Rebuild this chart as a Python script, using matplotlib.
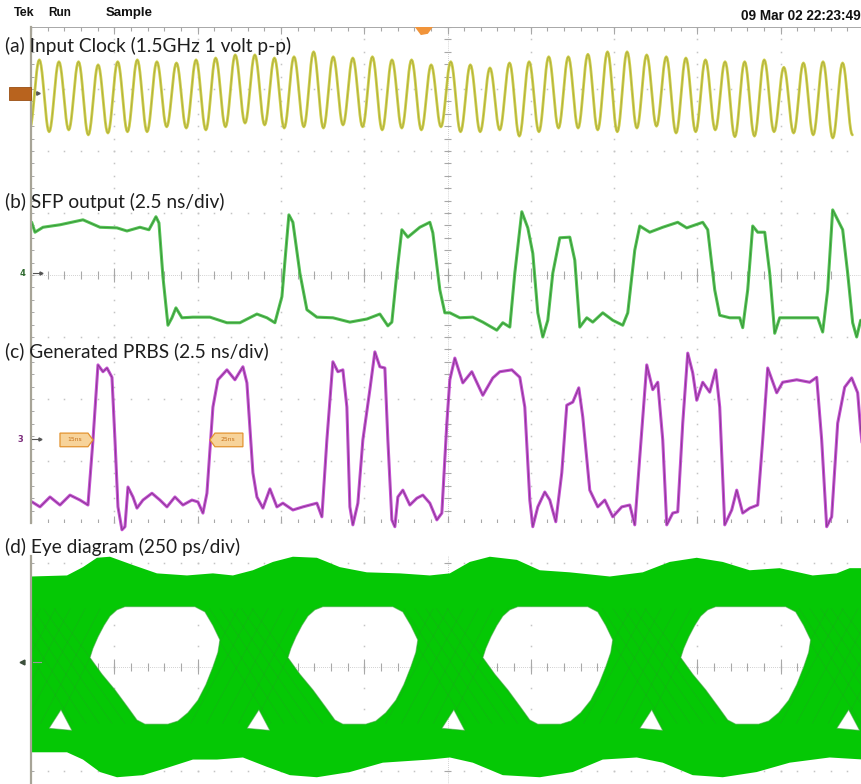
import numpy as np
import matplotlib
matplotlib.use("Agg")
import matplotlib.pyplot as plt
from matplotlib.path import Path
from matplotlib.patches import PathPatch, Polygon, Rectangle

# ---------------- Channel 1: input clock (levels in divisions) ----------------
clock_first_crest_ns = 0.25
clock_period_ns = 0.588
clock_lead_level = 2.35
clock_peaks = [3.47, 3.44, 3.44, 3.39, 3.44, 3.47, 3.44, 3.42, 3.47, 3.50,
               3.55, 3.55, 3.50, 3.52, 3.60, 3.52, 3.50, 3.52, 3.47, 3.47,
               3.39, 3.44, 3.39, 3.34, 3.42, 3.44, 3.52, 3.52, 3.56, 3.60,
               3.60, 3.55, 3.52, 3.50, 3.47, 3.44, 3.44, 3.47, 3.35, 3.42,
               3.44, 3.42]
clock_troughs = [2.31, 2.34, 2.26, 2.29, 2.31, 2.31, 2.39, 2.37, 2.34, 2.39,
                 2.45, 2.42, 2.37, 2.39, 2.37, 2.42, 2.39, 2.34, 2.37, 2.34,
                 2.39, 2.31, 2.31, 2.34, 2.24, 2.31, 2.37, 2.37, 2.34, 2.31,
                 2.37, 2.40, 2.29, 2.31, 2.34, 2.23, 2.24, 2.31, 2.29, 2.26,
                 2.21, 2.26]

# ---------------- Channel 4: SFP output ----------------
sfp_t = [0.02, 0.12, 0.36, 0.87, 1.56, 2.07, 2.58, 2.88, 3.27, 3.54,
         3.75, 3.84, 3.96, 4.11, 4.23, 4.35, 4.53, 4.86, 5.37, 5.88,
         6.27, 6.78, 7.08, 7.32, 7.53, 7.74, 7.86, 8.07, 8.28, 8.58,
         9.06, 9.57, 10.08, 10.47, 10.71, 10.83, 10.98, 11.13, 11.31, 11.67,
         11.97, 12.06, 12.27, 12.42, 12.57, 12.87, 13.26, 13.56, 13.98, 14.16,
         14.37, 14.52, 14.73, 14.91, 15.06, 15.21, 15.36, 15.51, 15.66, 15.87,
         16.17, 16.32, 16.47, 16.68, 16.86, 17.16, 17.46, 17.76, 17.91, 18.12,
         18.27, 18.57, 18.96, 19.41, 19.68, 20.16, 20.31, 20.52, 20.67, 20.97,
         21.27, 21.36, 21.51, 21.66, 21.81, 22.02, 22.17, 22.32, 22.47, 22.77,
         23.16, 23.61, 23.76, 23.91, 24.06, 24.36, 24.51, 24.66, 24.78, 24.90]
sfp_v = [0.85, 0.69, 0.77, 0.81, 0.89, 0.77, 0.76, 0.71, 0.77, 0.73,
         0.94, 0.84, -0.03, -0.81, -0.69, -0.53, -0.69, -0.68, -0.68, -0.77,
         -0.77, -0.63, -0.69, -0.77, -0.35, 0.97, 0.85, 0.03, -0.56, -0.68,
         -0.69, -0.76, -0.71, -0.63, -0.82, -0.76, 0.03, 0.73, 0.61, 0.77,
         0.85, 0.68, -0.24, -0.61, -0.61, -0.69, -0.68, -0.76, -0.89, -0.77,
         -0.84, 0.03, 1.02, 0.76, 0.35, -0.61, -1.00, -0.73, 0.03, 0.60,
         0.61, 0.24, -0.84, -0.69, -0.76, -0.61, -0.73, -0.81, -0.61, 0.40,
         0.79, 0.69, 0.77, 0.85, 0.76, 0.85, 0.73, -0.24, -0.65, -0.69,
         -0.69, -0.85, -0.24, 0.79, 0.69, 0.69, 0.03, -0.94, -0.69, -0.69,
         -0.69, -0.69, -0.92, -0.24, 1.05, 0.73, 0.03, -0.77, -1.00, -0.73]

# ---------------- Channel 3: generated PRBS ----------------
prbs_t = [0.03, 0.27, 0.57, 0.87, 1.17, 1.47, 1.71, 1.86, 2.01, 2.16,
          2.28, 2.43, 2.52, 2.61, 2.73, 2.82, 2.91, 3.06, 3.18, 3.36,
          3.63, 3.87, 4.08, 4.32, 4.56, 4.83, 5.01, 5.16, 5.28, 5.46,
          5.61, 5.88, 6.12, 6.36, 6.48, 6.66, 6.78, 6.96, 7.17, 7.38,
          7.56, 7.86, 8.16, 8.37, 8.58, 8.73, 8.88, 9.06, 9.21, 9.36,
          9.48, 9.57, 9.66, 9.81, 9.96, 10.17, 10.32, 10.47, 10.62, 10.71,
          10.83, 10.92, 11.01, 11.16, 11.37, 11.58, 11.76, 11.97, 12.18, 12.33,
          12.48, 12.57, 12.72, 12.96, 13.23, 13.56, 13.86, 14.07, 14.43, 14.67,
          14.82, 14.97, 15.06, 15.21, 15.42, 15.57, 15.75, 15.93, 16.08, 16.26,
          16.44, 16.56, 16.77, 17.01, 17.22, 17.46, 17.73, 17.97, 18.12, 18.27,
          18.48, 18.66, 18.81, 18.96, 19.08, 19.26, 19.41, 19.56, 19.71, 19.86,
          19.98, 20.16, 20.37, 20.55, 20.67, 20.82, 21.03, 21.18, 21.36, 21.57,
          21.81, 21.96, 22.11, 22.38, 22.56, 22.98, 23.37, 23.58, 23.73, 23.88,
          24.03, 24.21, 24.42, 24.63, 24.81, 24.90, 25.00]
prbs_v = [-3.66, -3.74, -3.58, -3.71, -3.55, -3.63, -3.71, -2.66, -1.45, -1.56,
          -1.50, -1.65, -2.66, -3.74, -4.11, -4.06, -3.42, -3.58, -3.76, -3.63,
          -3.52, -3.63, -3.74, -3.58, -3.71, -3.63, -3.66, -3.84, -3.52, -2.13,
          -1.69, -1.53, -1.69, -1.48, -1.74, -3.19, -3.58, -3.76, -3.45, -3.74,
          -3.68, -3.79, -3.74, -3.71, -3.68, -3.90, -2.66, -1.40, -1.56, -1.53,
          -2.13, -3.74, -4.03, -3.68, -2.66, -1.85, -1.24, -1.48, -1.50, -2.66,
          -3.95, -4.06, -3.58, -3.47, -3.71, -3.60, -3.55, -3.68, -3.95, -3.84,
          -2.39, -1.69, -1.34, -1.74, -1.56, -1.94, -1.66, -1.56, -1.53, -1.65,
          -2.13, -3.63, -4.06, -3.74, -3.50, -3.63, -3.98, -3.19, -2.10, -2.05,
          -1.82, -2.29, -3.47, -3.74, -3.63, -3.90, -3.74, -3.71, -4.03, -2.94,
          -1.45, -1.85, -1.73, -2.66, -4.03, -3.84, -3.82, -2.39, -1.26, -1.58,
          -2.02, -1.73, -1.89, -1.53, -2.13, -4.03, -3.79, -3.47, -3.84, -3.76,
          -3.71, -2.66, -1.50, -1.90, -1.73, -1.69, -1.73, -1.65, -2.66, -4.06,
          -3.90, -2.39, -1.81, -1.66, -1.90, -2.50, -3.00]

# ---------------- Eye diagram (time in ps, level in divisions) ----------------
eye_upper_t = [0, 108, 156, 198, 237, 306, 378, 468, 546, 606,
               666, 726, 786, 858, 927, 1008, 1107, 1197, 1257, 1317,
               1377, 1458, 1527, 1617, 1737, 1836, 1917, 1998, 2076, 2157,
               2247, 2346, 2418, 2457, 2500]
eye_upper_v = [0.87, 0.88, 0.96, 1.05, 1.06, 0.98, 0.90, 0.88, 0.90, 0.88,
               0.93, 1.01, 1.06, 1.05, 0.96, 0.91, 0.90, 0.88, 0.90, 1.01,
               1.06, 1.03, 0.93, 0.91, 0.87, 0.91, 1.01, 1.05, 1.01, 0.93,
               0.95, 0.88, 0.90, 0.95, 0.95]
eye_lower_t = [0, 108, 156, 207, 258, 336, 408, 486, 558, 636,
               708, 777, 858, 957, 1056, 1197, 1257, 1326, 1416, 1527,
               1626, 1716, 1818, 1896, 1986, 2076, 2178, 2277, 2397, 2500]
eye_lower_v = [-0.82, -0.82, -0.89, -1.01, -1.06, -1.04, -0.97, -0.89, -0.89, -0.87,
               -0.96, -1.04, -1.06, -1.01, -0.92, -0.89, -0.87, -0.92, -1.04, -1.06,
               -1.01, -0.89, -0.87, -0.92, -1.04, -1.06, -1.01, -0.92, -0.87, -0.89]
eye_cross_t = [78, 672, 1257, 1851, 2442]
eye_open_dt = [99, 108, 123, 141, 159, 180, 204, 414, 444, 468, 489, 483,
               468, 447, 423, 393, 363, 333, 264, 240, 213, 174, 135]
eye_open_v = [0.09, 0.18, 0.29, 0.40, 0.49, 0.55, 0.58, 0.58, 0.53, 0.40, 0.26, 0.14,
              0.00, -0.17, -0.32, -0.44, -0.52, -0.55, -0.55, -0.51, -0.39, -0.22, -0.07]
eye_gap_dt = [-24, 45, 12]
eye_gap_v = [-0.59, -0.61, -0.41]

# ---------------- styling ----------------
GRID_DOT = "#c4c4c4"
GRID_TICK = "#a8a8a8"
BORDER = "#a7a497"
EYE_GREEN = "#05c805"
LABEL_FONT = ["Lato", "DejaVu Sans"]

W, H = 861, 784
fig = plt.figure(figsize=(W / 100, H / 100), dpi=100)
fig.patch.set_facecolor("white")


def box(x0, y0, x1, y1):
    return [x0 / W, 1 - y1 / H, (x1 - x0) / W, (y1 - y0) / H]


def scope_grid(a, xmax, xdiv, ymin, ymax, ydiv, xc, tick_h, tick_w, top=None, bottom=None):
    xm, ym = xdiv / 5.0, ydiv / 5.0
    xs = np.arange(0, xmax + 1e-9, xm)
    ys = np.arange(np.ceil(ymin / ym) * ym, ymax + 1e-9, ym)
    # dotted major rows and columns
    for y in np.arange(np.ceil(ymin / ydiv) * ydiv, ymax + 1e-9, ydiv):
        if abs(y) > 1e-9 and (top is None or abs(y - top) > 1e-9) and (bottom is None or abs(y - bottom) > 1e-9):
            a.plot(xs, np.full_like(xs, y), ls="none", marker="s", ms=1.1,
                   mec="none", color=GRID_DOT, zorder=1)
    for x in np.arange(xdiv, xmax - 1e-9, xdiv):
        if abs(x - xc) > 1e-9:
            a.plot(np.full_like(ys, x), ys, ls="none", marker="s", ms=1.1,
                   mec="none", color=GRID_DOT, zorder=1)
    # centre cross with graduation ticks
    a.plot([0, xmax], [0, 0], color=GRID_TICK, lw=0.5, ls=(0, (1, 2)), zorder=1)
    a.vlines(xs, -tick_h, tick_h, color=GRID_TICK, lw=0.8, zorder=1)
    a.vlines(xs[::5], -tick_h * 1.8, tick_h * 1.8, color=GRID_TICK, lw=0.8, zorder=1)
    a.plot([xc, xc], [ymin, ymax], color=GRID_TICK, lw=0.5, ls=(0, (1, 2)), zorder=1)
    a.hlines(ys, xc - tick_w, xc + tick_w, color=GRID_TICK, lw=0.8, zorder=1)
    # border ticks
    if top is not None:
        a.plot([0, xmax], [top, top], color=GRID_TICK, lw=0.7, zorder=1)
        a.vlines(xs, top - tick_h, top, color=GRID_TICK, lw=0.8, zorder=1)
        a.vlines(xs[::5], top - tick_h * 1.8, top, color=GRID_TICK, lw=0.8, zorder=1)
    if bottom is not None:
        a.plot([0, xmax], [bottom, bottom], color=GRID_TICK, lw=0.7, zorder=1)
        a.vlines(xs, bottom, bottom + tick_h, color=GRID_TICK, lw=0.8, zorder=1)
        a.vlines(xs[::5], bottom, bottom + tick_h * 1.8, color=GRID_TICK, lw=0.8, zorder=1)
    a.hlines(ys, 0, tick_w * 0.8, color=GRID_TICK, lw=0.7, zorder=1)
    a.plot([0, 0], [ymin, ymax], color=BORDER, lw=1.6, zorder=6, clip_on=False)


def trace(a, t, v, light, dark, lw=2.4, clip=True):
    a.plot(t, v, color=light, lw=lw, solid_joinstyle="round", solid_capstyle="round",
           zorder=4, clip_on=clip)
    a.plot(t, v, color=dark, lw=0.6, solid_joinstyle="round", zorder=5, clip_on=clip, alpha=0.7)


# ================= 3-channel acquisition, 2.5 ns/div =================
ax = fig.add_axes(box(31, 27, 864, 523))
ax.set_xlim(0, 25)
ax.set_ylim(-4, 4)
ax.axis("off")
scope_grid(ax, 25, 2.5, -4, 4, 1.0, 12.5, 0.065, 0.12, top=4, bottom=-4)

# clock: smooth swing between successive crests and troughs
ext_t, ext_v = [clock_first_crest_ns - clock_period_ns / 2], [clock_lead_level]
for k, (p, q) in enumerate(zip(clock_peaks, clock_troughs)):
    ext_t += [clock_first_crest_ns + k * clock_period_ns,
              clock_first_crest_ns + (k + 0.5) * clock_period_ns]
    ext_v += [p, q]
s = np.linspace(0, 1, 12)[:-1]
ct, cv = [], []
for i in range(len(ext_t) - 1):
    ct.extend(ext_t[i] + (ext_t[i + 1] - ext_t[i]) * s)
    cv.extend(ext_v[i] + (ext_v[i + 1] - ext_v[i]) * (1 - np.cos(np.pi * s)) / 2)
ct.append(ext_t[-1]); cv.append(ext_v[-1])
trace(ax, ct, cv, "#d0d04a", "#9c9c3e", lw=2.0)

trace(ax, sfp_t, sfp_v, "#55c455", "#2b7a2b", lw=2.2)
trace(ax, prbs_t, prbs_v, "#c452d2", "#6b2a70", lw=2.2, clip=False)

# channel reference markers
ax.add_patch(Rectangle((-0.66, 2.82), 0.66, 0.21, facecolor="#b8631e",
                       edgecolor="#9a4e12", lw=0.6, clip_on=False, zorder=7))
ax.plot(0.22, 2.94, marker=">", ms=2.5, color="#555555", clip_on=False, zorder=7)
ax.text(-0.27, 0.03, "4", fontsize=6, color="#2f6a2f", ha="center", va="center",
        fontweight="bold", clip_on=False)
ax.plot([0.05, 0.3], [0.03, 0.03], color="#555555", lw=0.8, clip_on=False, zorder=7)
ax.plot(0.3, 0.03, marker=">", ms=2.2, color="#555555", clip_on=False, zorder=7)
ax.text(-0.33, -2.65, "3", fontsize=6, color="#7b2b7b", ha="center", va="center",
        fontweight="bold", clip_on=False)
ax.plot([0.02, 0.27], [-2.65, -2.65], color="#555555", lw=0.8, clip_on=False, zorder=7)
ax.plot(0.27, -2.65, marker=">", ms=2.2, color="#555555", clip_on=False, zorder=7)

# measurement cursor flags
flag_kw = dict(facecolor="#f7d39a", edgecolor="#e3932f", lw=0.9, zorder=6)
ax.add_patch(Polygon([(0.87, -2.77), (1.71, -2.77), (1.86, -2.66), (1.71, -2.55), (0.87, -2.55)], **flag_kw))
ax.add_patch(Polygon([(6.36, -2.77), (5.52, -2.77), (5.37, -2.66), (5.52, -2.55), (6.36, -2.55)], **flag_kw))
ax.text(1.3, -2.66, "15ns", fontsize=4.3, color="#c7711a", ha="center", va="center", zorder=7)
ax.text(5.92, -2.66, "25ns", fontsize=4.3, color="#c7711a", ha="center", va="center", zorder=7)

# trigger position marker
ax.add_patch(Polygon([(11.52, 4.0), (12.06, 4.0), (11.91, 3.89), (11.70, 3.87)],
                     facecolor="#f1943a", edgecolor="none", clip_on=False, zorder=7))

# ================= eye diagram, 250 ps/div =================
axe = fig.add_axes(box(31, 556, 864, 784))
axe.set_xlim(0, 2500)
axe.set_ylim(-1.125, 1.067)
axe.axis("off")
scope_grid(axe, 2500, 250, -1.125, 1.067, 1.0, 1250, 0.04, 12)


def ring(xs, ys, ccw):
    pts = np.column_stack([xs, ys]).astype(float)
    area = 0.5 * np.sum(pts[:, 0] * np.roll(pts[:, 1], -1) - np.roll(pts[:, 0], -1) * pts[:, 1])
    if (area > 0) != ccw:
        pts = pts[::-1]
    return pts


verts, codes = [], []


def add_ring(pts):
    verts.extend(pts.tolist())
    verts.append(pts[0].tolist())
    codes.extend([Path.MOVETO] + [Path.LINETO] * (len(pts) - 1) + [Path.CLOSEPOLY])


outer = ring(eye_upper_t + eye_lower_t[::-1], eye_upper_v + eye_lower_v[::-1], True)
add_ring(outer)
holes = []
for c in eye_cross_t[:-1]:
    holes.append(ring([c + d for d in eye_open_dt], eye_open_v, False))
for c in eye_cross_t:
    holes.append(ring([c + d for d in eye_gap_dt], eye_gap_v, False))
for h in holes:
    add_ring(h)

band = PathPatch(Path(verts, codes), facecolor=EYE_GREEN, edgecolor="none", zorder=3)
axe.add_patch(band)

# darker strands through the crossings
for c in eye_cross_t:
    for f in np.linspace(0, 1, 6):
        r0 = c - 240 + 239 * f
        r1 = c - 50 + 224 * f
        f0 = c - 168 + 160 * f
        f1 = c + 48 + 194 * f
        for xs_, ys_ in (([r0, r1], [-0.54, 0.56]), ([f0, f1], [0.56, -0.54])):
            ln, = axe.plot(xs_, ys_, color="#2f8f2f", lw=0.7, alpha=0.2, zorder=4)
            ln.set_clip_path(band)
for h in holes:
    axe.add_patch(Polygon(h, closed=True, fill=False, edgecolor="#35a335",
                          lw=0.8, alpha=0.55, zorder=4))

axe.plot(-27, 0.05, marker="<", ms=3.5, color="#3b4f3b", clip_on=False, zorder=7)
axe.plot([5, 30], [0.05, 0.05], color="#9a9a9a", lw=0.8, clip_on=False, zorder=7)

# ================= header and panel captions =================
hdr_font = ["Liberation Sans", "DejaVu Sans"]
fig.text(14 / W, 1 - 13 / H, "Tek", fontsize=9, fontweight="heavy", family=hdr_font,
         color="#111111", va="center")
fig.text(48 / W, 1 - 13 / H, "Run", fontsize=8.5, fontweight="bold", family=hdr_font,
         color="#111111", va="center")
fig.text(106 / W, 1 - 13 / H, "Sample", fontsize=9.5, fontweight="bold", family=hdr_font,
         color="#111111", va="center")
fig.text(861 / W, 1 - 16 / H, "09 Mar 02 22:23:49", fontsize=9.8, fontweight="bold",
         family=hdr_font, color="#111111", ha="right", va="center")

cap = dict(family=LABEL_FONT, fontsize=13.8, color="#1e1e1e", va="center", ha="left")
fig.text(5 / W, 1 - 46 / H, "(a) Input Clock (1.5GHz 1 volt p-p)", **cap)
fig.text(5 / W, 1 - 202 / H, "(b) SFP output (2.5 ns/div)", **cap)
fig.text(5 / W, 1 - 351 / H, "(c) Generated PRBS (2.5 ns/div)", **cap)
fig.text(5 / W, 1 - 547 / H, "(d) Eye diagram (250 ps/div)", **cap)

fig.savefig("out.png", dpi=100, facecolor="white")
